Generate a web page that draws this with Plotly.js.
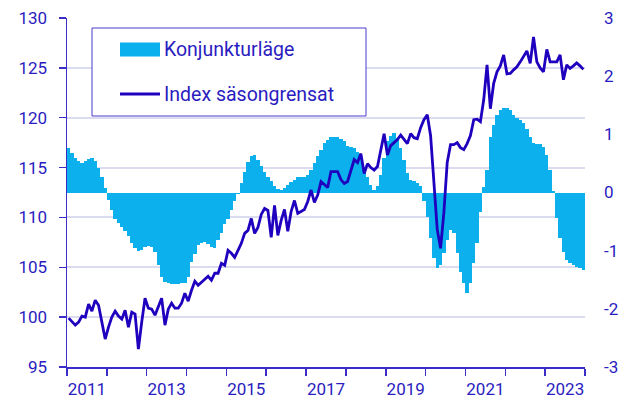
<!DOCTYPE html>
<html><head><meta charset="utf-8">
<script src="https://cdn.plot.ly/plotly-3.0.1.min.js"></script>
<style>html,body{margin:0;padding:0;background:#fff}#chart{width:630px;height:405px}</style>
</head><body><div id="chart"></div>
<script>
// Konjunkturläge (right axis), monthly Jan 2011 – Dec 2023
const konjunkturlage = [
  0.76,0.68,0.6,0.55,0.51,0.55,0.58,0.6,0.55,0.42,0.27,0.08,
  -0.13,-0.3,-0.45,-0.53,-0.6,-0.67,-0.75,-0.87,-0.96,-1.0,-0.98,-0.93,
  -0.92,-0.93,-1.03,-1.25,-1.45,-1.53,-1.56,-1.57,-1.57,-1.57,-1.56,-1.56,
  -1.45,-1.2,-1.05,-0.9,-0.86,-0.85,-0.88,-0.93,-0.95,-0.82,-0.7,-0.55,
  -0.45,-0.3,-0.15,-0.03,0.16,0.35,0.53,0.62,0.64,0.56,0.45,0.35,
  0.27,0.19,0.12,0.06,0.04,0.07,0.13,0.18,0.22,0.26,0.27,0.27,
  0.3,0.39,0.5,0.62,0.73,0.85,0.91,0.96,0.96,0.95,0.92,0.88,
  0.8,0.78,0.76,0.7,0.58,0.42,0.27,0.13,0.05,0.12,0.3,0.6,
  0.88,0.98,1.02,0.93,0.76,0.56,0.33,0.22,0.2,0.16,0.12,-0.15,
  -0.42,-0.79,-1.13,-1.3,-1.25,-1.04,-0.82,-0.64,-0.7,-1.04,-1.36,-1.56,
  -1.73,-1.56,-1.22,-0.87,-0.33,0.1,0.39,0.96,1.16,1.33,1.42,1.45,
  1.45,1.42,1.33,1.28,1.25,1.2,1.1,0.96,0.85,0.84,0.84,0.79,
  0.64,0.39,0.02,-0.44,-0.79,-1.02,-1.16,-1.22,-1.25,-1.28,-1.3,-1.33
];
// Index säsongrensat (left axis), monthly Jan 2011 – Dec 2023
const indexSasongrensat = [
  99.9,99.6,99.2,99.5,100.1,100.0,101.3,100.6,101.7,101.2,99.6,97.8,
  99.0,100.0,100.6,100.1,99.8,100.7,99.0,100.5,100.3,96.8,99.5,101.9,
  100.9,100.8,100.2,101.0,101.9,99.2,100.8,101.4,100.9,100.9,101.4,102.4,
  101.6,102.7,103.6,103.2,103.5,103.8,104.1,103.7,104.4,104.4,105.4,105.2,
  106.7,106.4,106.0,106.7,107.4,108.4,108.7,109.9,108.4,109.0,110.3,110.9,
  110.7,108.0,111.2,108.2,109.7,110.8,108.6,110.6,111.7,110.4,110.6,110.8,
  111.6,112.75,111.5,112.25,113.6,113.3,113.0,114.6,114.6,114.6,113.8,113.4,
  113.6,114.8,115.8,115.5,116.4,114.4,115.4,115.0,114.75,115.1,116.8,118.4,
  116.25,117.2,117.5,117.8,118.25,117.8,117.4,118.4,118.0,117.9,119.0,119.8,
  120.3,118.2,113.0,108.8,106.9,110.5,115.5,117.3,117.3,117.5,117.0,116.8,
  117.4,118.2,119.8,119.85,119.6,121.8,125.3,120.9,123.45,124.6,125.2,126.3,
  124.4,124.45,124.8,125.1,125.6,126.1,126.7,125.45,128.1,125.6,125.0,124.6,
  126.85,125.6,125.6,125.6,126.3,123.8,125.3,124.95,125.2,125.5,125.2,124.85
];
const startYear = 2011;
const tickYears = ["2011","2013","2015","2017","2019","2021","2023"];
const legendNames = ["Konjunkturläge","Index säsongrensat"];

const barColor = '#0BB0EC';
const lineColor = '#1E00BE';
const textColor = '#2A1CC0';
const axisColor = '#3B2DC8';
const gridColor = '#DCDCF0';
const fontFam = 'Roboto, "Open Sans", sans-serif';

const n = konjunkturlage.length;
const xIdx = konjunkturlage.map((_, i) => i);
const nYears = n / 12;
const majorVals = tickYears.map(y => (parseInt(y) - startYear) * 12 + 5.5);
const minorVals = [];
for (let k = 0; k <= nYears; k++) minorVals.push(k * 12 - 0.5);

const L = 67, R = 585, T = 18, B = 367;
const px = x => (x - L) / (R - L);
const py = y => (B - y) / (B - T);

const traces = [
  { type: 'bar', x: xIdx, y: konjunkturlage, name: legendNames[0], yaxis: 'y',
    marker: { color: barColor, line: { width: 0 } }, showlegend: false, hoverinfo: 'skip' },
  { type: 'scatter', mode: 'lines', x: xIdx, y: indexSasongrensat, name: legendNames[1], yaxis: 'y2',
    line: { color: lineColor, width: 2.8, shape: 'linear' }, showlegend: false, hoverinfo: 'skip' }
];

const layout = {
  width: 630, height: 405,
  margin: { l: L, r: 630 - R, t: T, b: 405 - B, pad: 0 },
  paper_bgcolor: '#fff', plot_bgcolor: '#fff',
  font: { family: fontFam, size: 17, color: textColor },
  bargap: 0,
  showlegend: false,
  xaxis: {
    range: [-0.5, n - 0.5], fixedrange: true,
    tickmode: 'array', tickvals: majorVals, ticktext: tickYears,
    ticks: '', showgrid: false, zeroline: false,
    showline: true, linecolor: axisColor, linewidth: 1.5,
    tickfont: { family: fontFam, size: 17, color: textColor },
    ticklabelstandoff: 6,
    minor: { tickmode: 'array', tickvals: minorVals, ticks: 'outside', ticklen: 7, tickwidth: 1.5, tickcolor: axisColor, showgrid: false }
  },
  yaxis: {
    side: 'right', range: [-3, 3], tickvals: [-3,-2,-1,0,1,2,3], ticktext: ['-3','-2','-1','0','1','2','3'],
    showgrid: false, zeroline: false, showline: false, ticks: '',
    tickfont: { family: fontFam, size: 17, color: textColor },
    ticklabelstandoff: 18
  },
  yaxis2: {
    overlaying: 'y', side: 'left', range: [95, 130], tickvals: [95,100,105,110,115,120,125,130],
    showgrid: true, gridcolor: gridColor, gridwidth: 2, zeroline: false,
    showline: true, linecolor: axisColor, linewidth: 1.5,
    ticks: 'outside', ticklen: 7, tickwidth: 1.5, tickcolor: axisColor,
    tickfont: { family: fontFam, size: 17, color: textColor },
    ticklabelstandoff: 8
  },
  shapes: [
    { type: 'rect', xref: 'paper', yref: 'paper', x0: px(92), x1: px(366), y0: py(116), y1: py(28),
      line: { color: '#4A3CCC', width: 1 }, fillcolor: '#fff', layer: 'above' },
    { type: 'rect', xref: 'paper', yref: 'paper', x0: px(120), x1: px(160), y0: py(56.5), y1: py(42.5),
      line: { width: 0 }, fillcolor: barColor, layer: 'above' },
    { type: 'line', xref: 'paper', yref: 'paper', x0: px(120), x1: px(160), y0: py(94), y1: py(94),
      line: { color: lineColor, width: 3 }, layer: 'above' }
  ],
  annotations: [
    { xref: 'paper', yref: 'paper', x: px(162), y: py(49), xanchor: 'left', yanchor: 'middle',
      text: legendNames[0], showarrow: false, font: { family: fontFam, size: 19.5, color: textColor } },
    { xref: 'paper', yref: 'paper', x: px(162), y: py(94), xanchor: 'left', yanchor: 'middle',
      text: legendNames[1], showarrow: false, font: { family: fontFam, size: 19.5, color: textColor } }
  ]
};

Plotly.newPlot('chart', traces, layout, { staticPlot: true, displayModeBar: false });
</script>
</body></html>
